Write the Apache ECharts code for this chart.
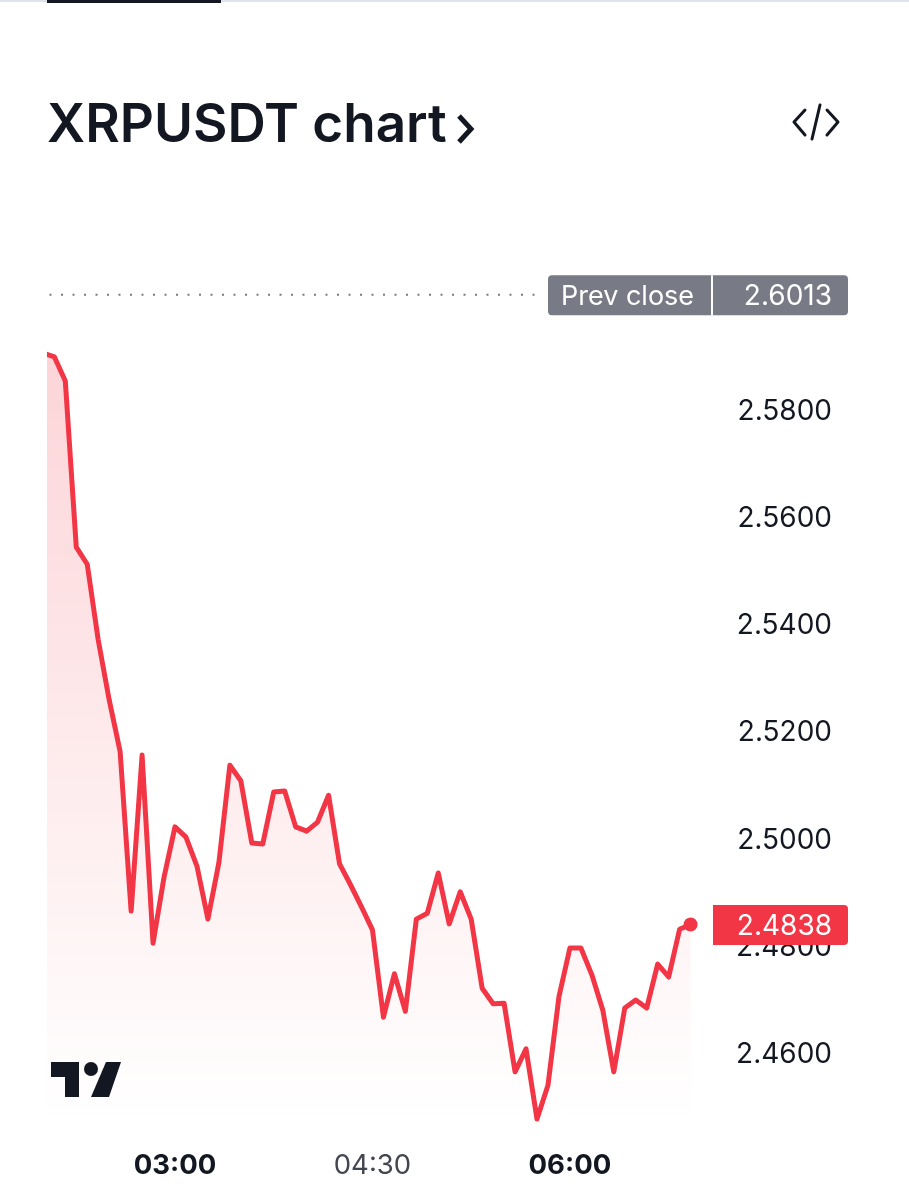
<!DOCTYPE html>
<html>
<head>
<meta charset="utf-8">
<title>XRPUSDT chart</title>
<script src="https://cdn.jsdelivr.net/npm/echarts@6/dist/echarts.min.js"></script>
<style>
html, body { margin: 0; padding: 0; background: #fff; }
#chart { width: 909px; height: 1200px; }
</style>
</head>
<body>
<div id="chart"></div>
<script>
var times = ['02:00','02:05','02:10','02:15','02:20','02:25','02:30','02:35','02:40','02:45',
    '02:50','02:55','03:00','03:05','03:10','03:15','03:20','03:25','03:30','03:35',
    '03:40','03:45','03:50','03:55','04:00','04:05','04:10','04:15','04:20','04:25',
    '04:30','04:35','04:40','04:45','04:50','04:55','05:00','05:05','05:10','05:15',
    '05:20','05:25','05:30','05:35','05:40','05:45','05:50','05:55','06:00','06:05',
    '06:10','06:15','06:20','06:25','06:30','06:35','06:40','06:45','06:50','06:55'];
var prices = [2.5904,2.5897,2.5852,2.5542,2.5510,2.5369,2.5257,2.5160,2.4863,2.5154,
    2.4803,2.4926,2.5020,2.5001,2.4947,2.4848,2.4953,2.5135,2.5106,2.4990,
    2.4988,2.5085,2.5087,2.5020,2.5012,2.5029,2.5079,2.4951,2.4912,2.4871,
    2.4828,2.4665,2.4746,2.4676,2.4848,2.4859,2.4934,2.4839,2.4899,2.4848,
    2.4719,2.4690,2.4691,2.4563,2.4606,2.4475,2.4538,2.4703,2.4794,2.4794,
    2.4744,2.4678,2.4563,2.4682,2.4697,2.4682,2.4764,2.4740,2.4829,2.4838];
var yTicks = [2.58, 2.56, 2.54, 2.52, 2.50, 2.48, 2.46];
var xTicks = ['03:00', '04:30', '06:00'];
var prevClose = 2.6013;
var lastPrice = 2.4838;

var FONT = 'Inter, "Noto Sans", sans-serif';
var RED = '#f23645';
var GREY = '#787b86';
var INK = '#131722';

function toMin(t) {
    var p = t.split(':');
    return +p[0] * 60 + +p[1];
}

var lineData = [];
for (var i = 0; i < times.length; i++) {
    lineData.push([toMin(times[i]), prices[i]]);
}

var myChart = echarts.init(document.getElementById('chart'), null, { renderer: 'canvas' });

var renderTag = function (params, api) {
    var y = api.coord([400, api.value(0)])[1];
    var isPrev = params.dataIndex === 0;
    var kids = [];
    var x0 = isPrev ? 548 : 713;
    kids.push({
        type: 'rect',
        shape: { x: x0, y: y - 19.5, width: 848 - x0, height: 40, r: isPrev ? 4 : [0, 4, 4, 0] },
        style: { fill: isPrev ? GREY : RED }
    });
    if (isPrev) {
        kids.push({ type: 'rect', shape: { x: 711, y: y - 19.5, width: 2, height: 40 }, style: { fill: '#fff' } });
        kids.push({
            type: 'text',
            style: { x: 561, y: y + 2, text: 'Prev close', fill: '#fff', font: '27px ' + FONT, textAlign: 'left', textVerticalAlign: 'middle' }
        });
    }
    kids.push({
        type: 'text',
        style: { x: 832, y: y + 2, text: api.value(0).toFixed(4), fill: '#fff', font: '28px ' + FONT, textAlign: 'right', textVerticalAlign: 'middle' }
    });
    return { type: 'group', children: kids };
};

var option = {
    animation: false,
    backgroundColor: '#fff',
    title: {
        text: 'XRPUSDT chart',
        left: 42,
        top: 95,
        textStyle: { fontFamily: FONT, fontSize: 53, fontWeight: 600, color: INK }
    },
    grid: { left: 49.5, top: 261.4, width: 798.5, height: 860.3 },
    xAxis: {
        type: 'value',
        min: 122.8,
        max: 486.75,
        splitLine: { show: false },
        axisLine: { show: false },
        axisTick: { show: false },
        axisLabel: {
            customValues: xTicks.map(toMin),
            margin: 30,
            hideOverlap: false,
            formatter: function (v) {
                var h = Math.floor(v / 60), m = v % 60;
                var s = (h < 10 ? '0' : '') + h + ':' + (m < 10 ? '0' : '') + m;
                return m === 0 ? '{b|' + s + '}' : '{n|' + s + '}';
            },
            rich: {
                b: { fontFamily: FONT, fontSize: 27.5, fontWeight: 700, color: INK },
                n: { fontFamily: FONT, fontSize: 27.5, fontWeight: 400, color: '#434651' }
            }
        }
    },
    yAxis: {
        type: 'value',
        position: 'right',
        min: 2.447,
        max: 2.6075,
        splitLine: { show: false },
        axisLine: { show: false },
        axisTick: { show: false },
        axisLabel: {
            customValues: yTicks,
            inside: true,
            margin: 16,
            formatter: function (v) { return '{v|' + v.toFixed(4) + '}'; },
            rich: {
                v: { fontFamily: FONT, fontSize: 28, color: INK, padding: [5, 0, 0, 0] }
            }
        }
    },
    series: [
        {
            name: 'XRPUSDT',
            type: 'line',
            data: lineData,
            showSymbol: true,
            showAllSymbol: true,
            symbol: 'circle',
            symbolSize: function (v, p) { return p.dataIndex === prices.length - 1 ? 14 : 0; },
            itemStyle: { color: RED },
            lineStyle: { color: RED, width: 5, join: 'round', cap: 'round' },
            areaStyle: {
                origin: 'start',
                color: new echarts.graphic.LinearGradient(0, 0, 0, 1, [
                    { offset: 0, color: 'rgba(242,54,69,0.3)' },
                    { offset: 1, color: 'rgba(242,54,69,0)' }
                ])
            },
            z: 3
        },
        {
            name: 'Prev close',
            type: 'line',
            data: [[122.8, prevClose], [346.5, prevClose]],
            showSymbol: false,
            lineStyle: { color: GREY, width: 2, type: [2, 9.5] },
            z: 2
        },
        {
            name: 'Tags',
            type: 'custom',
            renderItem: renderTag,
            clip: false,
            data: [[prevClose], [lastPrice]],
            encode: { y: 0 },
            z: 4
        }
    ],
    graphic: [
        // top tab bar
        { type: 'rect', shape: { x: 0, y: 0, width: 909, height: 2 }, style: { fill: '#e0e3eb' } },
        { type: 'rect', shape: { x: 47, y: 0, width: 174, height: 3 }, style: { fill: INK } },
        // chevron next to the title
        { type: 'polyline', shape: { points: [[459, 116], [471, 129], [459, 142]] }, style: { stroke: INK, lineWidth: 5, fill: null } },
        // embed icon
        { type: 'polyline', shape: { points: [[805, 110], [794, 122], [805, 135]] }, style: { stroke: INK, lineWidth: 3, fill: null, lineCap: 'round', lineJoin: 'round' } },
        { type: 'polyline', shape: { points: [[827, 110], [838, 122], [827, 135]] }, style: { stroke: INK, lineWidth: 3, fill: null, lineCap: 'round', lineJoin: 'round' } },
        { type: 'line', shape: { x1: 820, y1: 105, x2: 812, y2: 139 }, style: { stroke: INK, lineWidth: 3, lineCap: 'round' } },
        // tradingview mark
        { type: 'polygon', z: 10, shape: { points: [[51, 1062], [79, 1062], [79, 1097], [65, 1097], [65, 1077], [51, 1077]] }, style: { fill: INK } },
        { type: 'circle', z: 10, shape: { cx: 91, cy: 1069, r: 7 }, style: { fill: INK } },
        { type: 'polygon', z: 10, shape: { points: [[106, 1062], [121, 1062], [109, 1097], [91, 1097]] }, style: { fill: INK } }
    ]
};
myChart.setOption(option);
</script>
</body>
</html>
